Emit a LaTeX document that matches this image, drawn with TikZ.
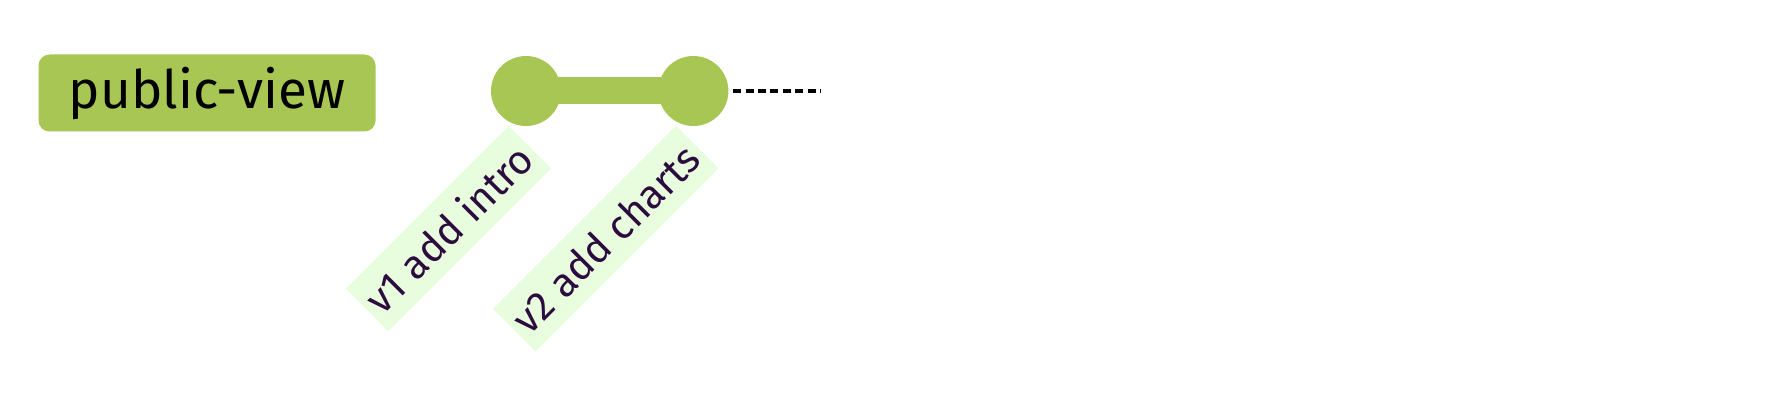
\documentclass[tikz,border=0pt]{standalone}
\usepackage{fontspec}
\setmainfont{Fira Sans}
\usetikzlibrary{positioning,backgrounds,calc}
\definecolor{branchgreen}{HTML}{A8C653}
\definecolor{tagbg}{HTML}{E8FCDE}
\definecolor{tagtext}{HTML}{2C0B3E}

\begin{document}
\begin{tikzpicture}[
  x=1pt, y=1pt,
  branch/.style={rounded corners=11pt, fill=branchgreen, text=black, minimum width=337pt, minimum height=77pt, font=\fontsize{53}{62}\selectfont},
  commit/.style={circle, fill=branchgreen, minimum size=70pt, inner sep=0pt},
  msg/.style={rotate=45, anchor=east, fill=tagbg, text=tagtext, minimum height=60pt, inner xsep=6.5pt, inner ysep=0pt, font=\fontsize{40.5}{48}\selectfont},
  link/.style={draw=branchgreen, line width=27pt},
  pending/.style={draw=black, line width=3.5pt, dash pattern=on 8pt off 4.4pt},
]
  \useasboundingbox (0,0) rectangle (1780,-414);
  \node[branch] (main) at (207,-93) {public-view};
  \node[commit] (v1) at (526,-91) {};
  \node[commit, right=97pt of v1] (v2) {};
  \coordinate (tail) at (820,-91);
  \begin{scope}[on background layer]
    \draw[link] (v1.center) -- (v2.center);
  \end{scope}
  \draw[pending, shorten <=4.5pt] (v2.east) -- (tail);
  \node[msg] (msg1) at ($(v1)+(4,-56)$) {v1 add intro};
  \node[msg] (msg2) at ($(v2)+(4,-56)$) {v2 add charts};
\end{tikzpicture}
\end{document}
